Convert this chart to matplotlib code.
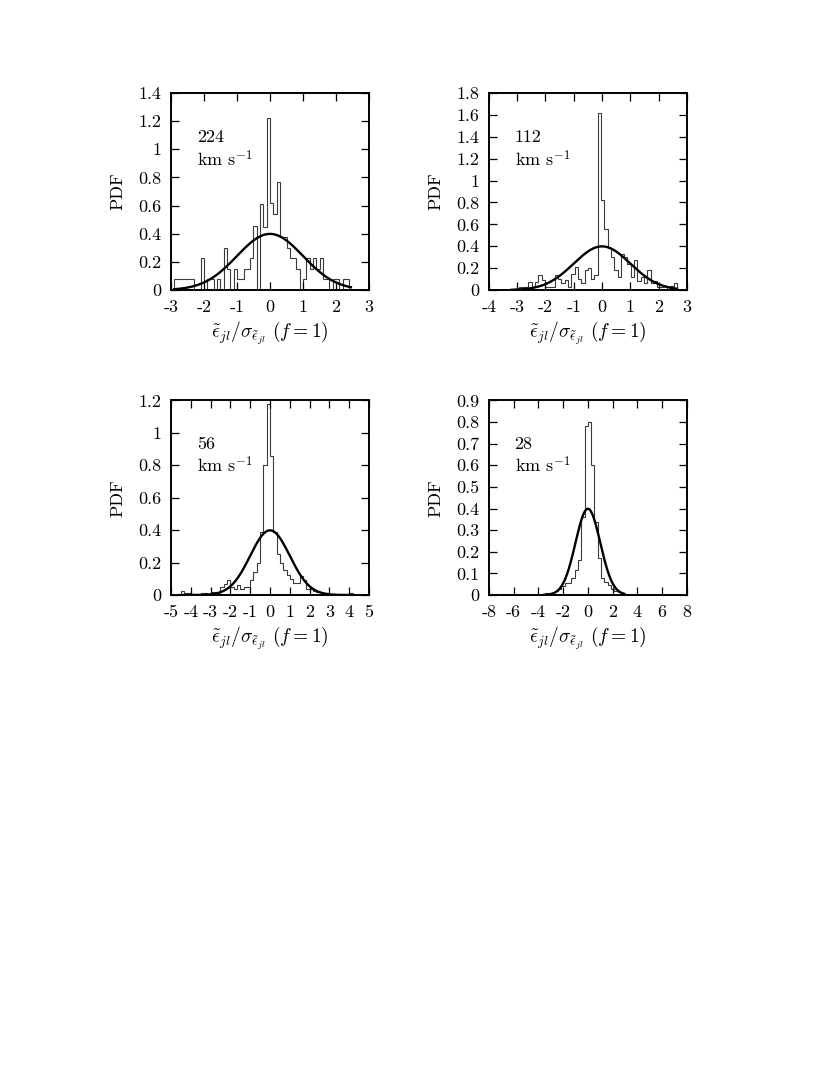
import numpy as np
import matplotlib
matplotlib.use('Agg')
import matplotlib.pyplot as plt

plt.rcParams['font.family'] = ['cmr10', 'DejaVu Serif']
plt.rcParams['mathtext.fontset'] = 'cm'
plt.rcParams['axes.unicode_minus'] = False

# ---------------- data ----------------
speeds = ['224', '112', '56', '28']
x_ranges = [(-3, 3), (-4, 3), (-5, 5), (-8, 8)]
n_bins = 60
y_max = [1.4, 1.8, 1.2, 0.9]
y_step = [0.2, 0.2, 0.2, 0.1]
x_step = [1, 1, 1, 2]

pdf_224 = [0, 0.076, 0.076, 0.076, 0.076, 0.076, 0.076, 0, 0, 0.226,
           0, 0.076, 0.076, 0, 0.076, 0, 0.30, 0.15, 0, 0.15,
           0.076, 0.076, 0.15, 0.15, 0.226, 0.457, 0, 0.61, 0.45, 1.22,
           0.62, 0.54, 0.77, 0.38, 0.38, 0.30, 0.226, 0.226, 0.15, 0,
           0.076, 0.226, 0.15, 0.226, 0.15, 0.226, 0.076, 0.076, 0, 0.076,
           0.076, 0, 0.076, 0.076, 0, 0, 0, 0, 0, 0]
pdf_112 = [0, 0, 0, 0, 0, 0, 0, 0, 0, 0.025,
           0.025, 0.025, 0.07, 0.025, 0.07, 0.14, 0.09, 0.025, 0.025, 0.025,
           0.14, 0.10, 0.06, 0.09, 0.025, 0.15, 0.21, 0.10, 0.06, 0.18,
           0.20, 0.10, 0.14, 1.62, 0.82, 0.56, 0.38, 0.30, 0.18, 0.12,
           0.33, 0.30, 0.24, 0.12, 0.27, 0.08, 0.12, 0.06, 0.18, 0.06,
           0.08, 0.025, 0.025, 0.04, 0, 0.04, 0.06, 0, 0, 0]
pdf_56 = [0, 0, 0, 0.025, 0.01, 0.01, 0, 0, 0, 0.01,
          0.01, 0, 0.02, 0.02, 0.01, 0.05, 0.07, 0.09, 0.05, 0.04,
          0.06, 0.04, 0.05, 0.05, 0.09, 0.145, 0.20, 0.39, 0.80, 1.175,
          0.86, 0.39, 0.255, 0.20, 0.155, 0.124, 0.10, 0.077, 0.077, 0.118,
          0.093, 0.04, 0.04, 0.027, 0.02, 0.02, 0.015, 0.015, 0, 0,
          0, 0, 0, 0, 0.01, 0, 0, 0, 0, 0]
pdf_28 = [0, 0, 0, 0, 0, 0, 0, 0, 0, 0,
          0, 0, 0, 0, 0, 0, 0, 0.008, 0.008, 0.015,
          0.02, 0.03, 0.04, 0.055, 0.055, 0.08, 0.115, 0.16, 0.36, 0.78,
          0.80, 0.60, 0.34, 0.17, 0.08, 0.06, 0.045, 0.03, 0.02, 0.015,
          0.01, 0, 0, 0, 0, 0, 0, 0, 0, 0,
          0, 0, 0, 0, 0, 0, 0, 0, 0, 0]
pdfs = [pdf_224, pdf_112, pdf_56, pdf_28]

# extent of the unit-Gaussian curves
curve_lo = [-2.9, -3.2, -4.5, -3.6]
curve_hi = [2.45, 2.65, 4.1, 2.95]

# ---------------- figure ----------------
fig = plt.figure(figsize=(8.3, 10.75), dpi=100)
positions = [[0.206, 0.7302, 0.2386, 0.1833],
             [0.589, 0.7302, 0.2386, 0.1833],
             [0.206, 0.4465, 0.2386, 0.181],
             [0.589, 0.4465, 0.2386, 0.181]]

xlab = r'$\tilde{\epsilon}_{jl}/\sigma_{\tilde{\epsilon}_{jl}}\ (f=1)$'
fs = 13

def fmt(v):
    s = ('%.1f' % v).rstrip('0').rstrip('.')
    return '0' if s in ('-0', '') else s

for i in range(4):
    ax = fig.add_axes(positions[i])
    lo, hi = x_ranges[i]
    edges = np.linspace(lo, hi, n_bins + 1)
    ax.stairs(pdfs[i], edges, color='#3a3a3a', lw=0.8, baseline=0)
    xc = np.linspace(curve_lo[i], curve_hi[i], 400)
    ax.plot(xc, np.exp(-0.5 * xc ** 2) / np.sqrt(2 * np.pi), color='black', lw=1.7)
    ax.set_xlim(lo, hi)
    ax.set_ylim(0, y_max[i])
    xt = np.arange(lo, hi + 1e-9, x_step[i])
    ax.set_xticks(xt)
    ax.set_xticklabels([fmt(v) for v in xt])
    yt = np.arange(0, y_max[i] + 1e-9, y_step[i])
    ax.set_yticks(yt)
    ax.set_yticklabels([fmt(v) for v in yt])
    ax.tick_params(direction='in', top=True, right=True, length=6, width=0.9,
                   labelsize=fs, pad=7)
    for sp in ax.spines.values():
        sp.set_linewidth(1.4)
    ax.set_xlabel(xlab, fontsize=14, labelpad=3)
    ax.set_ylabel('PDF', fontsize=fs, labelpad=9)
    ax.text(0.13, 0.775, speeds[i], transform=ax.transAxes, fontsize=fs,
            ha='left', va='center')
    ax.text(0.13, 0.665, r'km s$^{-1}$', transform=ax.transAxes, fontsize=fs,
            ha='left', va='center')

fig.savefig('out.png', dpi=100)
